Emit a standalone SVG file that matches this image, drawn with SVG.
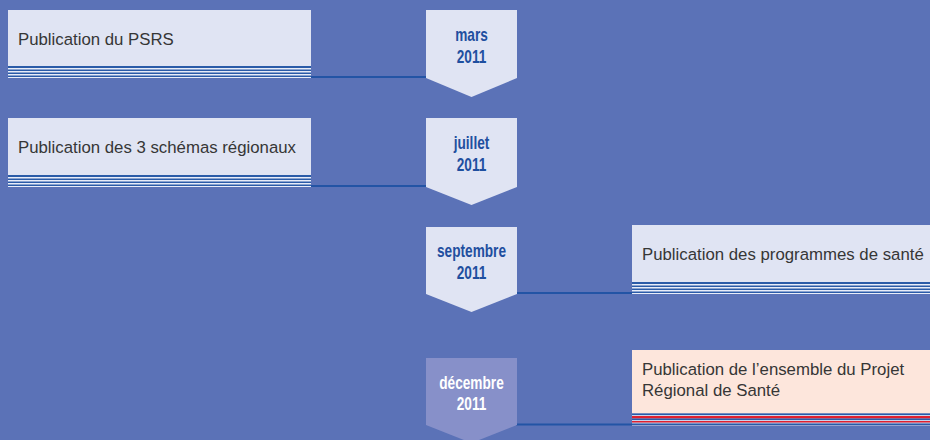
<svg xmlns="http://www.w3.org/2000/svg" xmlns:xlink="http://www.w3.org/1999/xlink" width="930" height="440" viewBox="0 0 930 440">
<style>
.bg{fill:#5b72b7}
.box{fill:#e0e4f3}
.peach{fill:#fde6dc}
.pent{fill:#e0e4f3}
.pent4{fill:#8790c9}
.lbl{font-family:"Liberation Sans",Arial,sans-serif;font-size:16.8px;fill:#363636}
.date{font-family:"Liberation Sans",Arial,sans-serif;font-weight:bold;font-size:17.5px;fill:#1f4f9f;text-anchor:middle}
.date4{fill:#ffffff}
.conn{stroke:#2354a5;stroke-width:2;fill:none}
</style>
<defs>
<g id="stripesBlue">
<rect x="0" y="0" width="303" height="12" fill="#e8ecf8"/>
<rect x="0" y="0" width="303" height="2" fill="#2a5ba8"/>
<rect x="0" y="3.5" width="303" height="1.5" fill="#2a5ba8"/>
<rect x="0" y="6.5" width="303" height="1.5" fill="#2a5ba8"/>
<rect x="0" y="9.5" width="303" height="1.5" fill="#2a5ba8"/>
</g>
<g id="stripesRed">
<rect x="0" y="0" width="303" height="12" fill="#c9d3ee"/>
<rect x="0" y="0" width="303" height="1.5" fill="#2a5ba8"/>
<rect x="0" y="2.5" width="303" height="2.5" fill="#e0202e"/>
<rect x="0" y="5" width="303" height="1.5" fill="#2a5ba8"/>
<rect x="0" y="7.5" width="303" height="1.5" fill="#e0202e"/>
<rect x="0" y="10" width="303" height="1.5" fill="#2a5ba8"/>
</g>
</defs>
<rect class="bg" x="0" y="0" width="930" height="440"/>

<g id="connectors">
<line class="conn" x1="311" y1="77" x2="427" y2="77"/>
<line class="conn" x1="311" y1="186" x2="427" y2="186"/>
<line class="conn" x1="516" y1="293" x2="632" y2="293"/>
<line class="conn" x1="516" y1="424.5" x2="632" y2="424.5"/>
</g>

<g id="box1">
<rect class="box" x="8" y="10" width="303" height="56"/>
<use xlink:href="#stripesBlue" x="8" y="66"/>
<text class="lbl" x="18" y="45">Publication du PSRS</text>
</g>
<g id="box2">
<rect class="box" x="8" y="118" width="303" height="57"/>
<use xlink:href="#stripesBlue" x="8" y="175"/>
<text class="lbl" x="18" y="153">Publication des 3 schémas régionaux</text>
</g>
<g id="box3">
<rect class="box" x="632" y="225" width="298" height="57"/>
<use xlink:href="#stripesBlue" x="632" y="282"/>
<text class="lbl" x="642" y="260">Publication des programmes de santé</text>
</g>
<g id="box4">
<rect class="peach" x="632" y="350" width="298" height="63.5"/>
<use xlink:href="#stripesRed" x="632" y="413.5"/>
<text class="lbl" x="642" y="375">Publication de l’ensemble du Projet</text>
<text class="lbl" x="642" y="396">Régional de Santé</text>
</g>

<g id="date1">
<polygon class="pent" points="426,10 517,10 517,78 471.5,97 426,78"/>
<g transform="translate(471.5,0) scale(0.78,1)">
<text class="date" x="0" y="41">mars</text>
<text class="date" x="0" y="63">2011</text>
</g>
</g>
<g id="date2">
<polygon class="pent" points="426,118 517,118 517,187 471.5,205 426,187"/>
<g transform="translate(471.5,0) scale(0.78,1)">
<text class="date" x="0" y="149">juillet</text>
<text class="date" x="0" y="171">2011</text>
</g>
</g>
<g id="date3">
<polygon class="pent" points="426,227 517,227 517,294 471.5,312 426,294"/>
<g transform="translate(471.5,0) scale(0.78,1)">
<text class="date" x="0" y="257">septembre</text>
<text class="date" x="0" y="279">2011</text>
</g>
</g>
<g id="date4">
<polygon class="pent4" points="426,358 517,358 517,425 471.5,443 426,425"/>
<g transform="translate(471.5,0) scale(0.78,1)">
<text class="date date4" x="0" y="389">décembre</text>
<text class="date date4" x="0" y="410">2011</text>
</g>
</g>
</svg>
